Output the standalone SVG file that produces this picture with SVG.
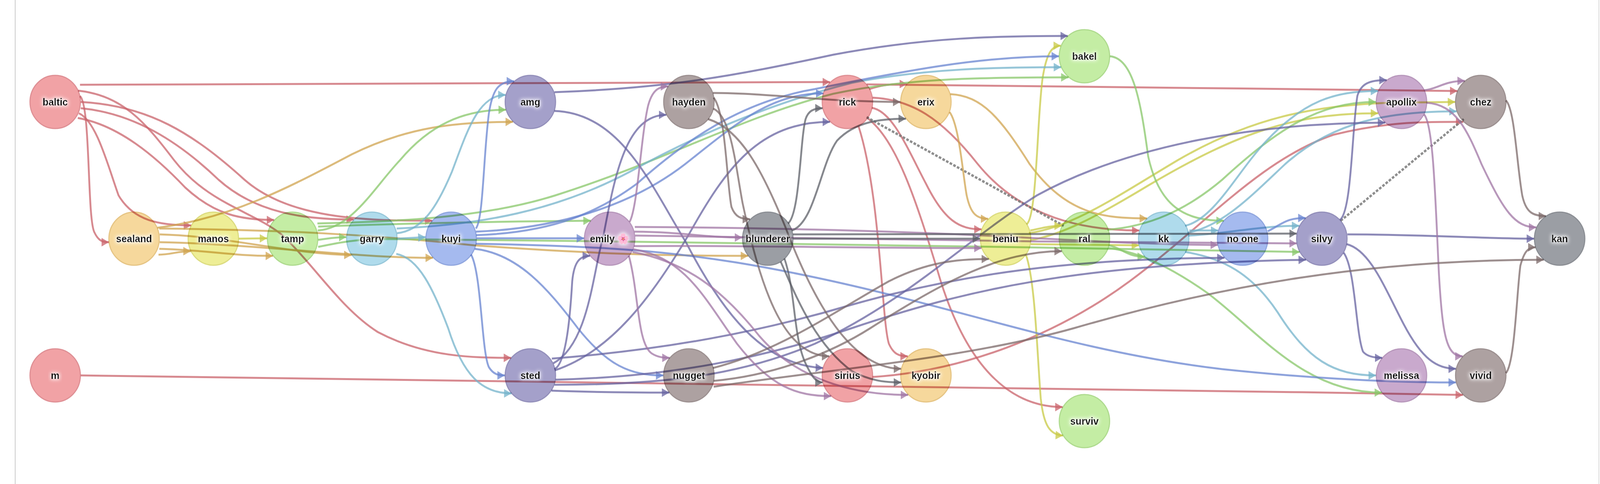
<svg xmlns="http://www.w3.org/2000/svg" width="4320" height="1239" viewBox="0 0 4320 1239">
<style>
.e{fill:none;stroke-width:5;stroke-opacity:.75}
.red{stroke:#c9636b;marker-end:url(#a-red)}
.org{stroke:#d0a450;marker-end:url(#a-org)}
.yel{stroke:#c8c945;marker-end:url(#a-yel)}
.grn{stroke:#88c769;marker-end:url(#a-grn)}
.lbl{stroke:#74b3cb;marker-end:url(#a-lbl)}
.blu{stroke:#6884d0;marker-end:url(#a-blu)}
.sla{stroke:#6763a0;marker-end:url(#a-sla)}
.pnk{stroke:#a076a4;marker-end:url(#a-pnk)}
.brn{stroke:#7c6a6a;marker-end:url(#a-brn)}
.gry{stroke:#5e6068;marker-end:url(#a-gry)}
.dash{fill:none;stroke:#7a7a7a;stroke-opacity:.85;stroke-width:6;stroke-dasharray:7 4}
.c{stroke-width:3;mix-blend-mode:multiply}
.n-red{fill:#f1a2a5;stroke:#df9095}
.n-org{fill:#f6d89c;stroke:#e6c585}
.n-yel{fill:#eeee96;stroke:#dcdc80}
.n-grn{fill:#c4eda4;stroke:#afdb8f}
.n-lbl{fill:#afdbec;stroke:#98c8da}
.n-blu{fill:#a5baef;stroke:#91a7df}
.n-sla{fill:#a4a0ca;stroke:#9490bb}
.n-pnk{fill:#c9a9cd;stroke:#b898bc}
.n-brn{fill:#ada1a1;stroke:#9d9191}
.n-gry{fill:#9b9ea4;stroke:#8c8f95}
.t{font-family:"Liberation Sans",Arial,"Noto Color Emoji",sans-serif;font-weight:bold;font-size:26px;text-anchor:middle;fill:#111;filter:url(#halo)}
</style>
<defs>
<filter id="halo" x="-30%" y="-60%" width="160%" height="220%">
<feMorphology in="SourceAlpha" operator="dilate" radius="2" result="d"/>
<feGaussianBlur in="d" stdDeviation="5" result="b"/>
<feFlood flood-color="#ffffff" flood-opacity="0.95"/>
<feComposite in2="b" operator="in" result="g"/>
<feMerge><feMergeNode in="g"/><feMergeNode in="SourceGraphic"/></feMerge>
</filter>
<marker id="a-red" viewBox="0 0 20 22" markerWidth="20" markerHeight="22" markerUnits="userSpaceOnUse" refX="20" refY="11" orient="auto"><path d="M0,0L20,11L0,22z" fill="#c9636b" fill-opacity=".75"/></marker>
<marker id="a-org" viewBox="0 0 20 22" markerWidth="20" markerHeight="22" markerUnits="userSpaceOnUse" refX="20" refY="11" orient="auto"><path d="M0,0L20,11L0,22z" fill="#d0a450" fill-opacity=".75"/></marker>
<marker id="a-yel" viewBox="0 0 20 22" markerWidth="20" markerHeight="22" markerUnits="userSpaceOnUse" refX="20" refY="11" orient="auto"><path d="M0,0L20,11L0,22z" fill="#c8c945" fill-opacity=".75"/></marker>
<marker id="a-grn" viewBox="0 0 20 22" markerWidth="20" markerHeight="22" markerUnits="userSpaceOnUse" refX="20" refY="11" orient="auto"><path d="M0,0L20,11L0,22z" fill="#88c769" fill-opacity=".75"/></marker>
<marker id="a-lbl" viewBox="0 0 20 22" markerWidth="20" markerHeight="22" markerUnits="userSpaceOnUse" refX="20" refY="11" orient="auto"><path d="M0,0L20,11L0,22z" fill="#74b3cb" fill-opacity=".75"/></marker>
<marker id="a-blu" viewBox="0 0 20 22" markerWidth="20" markerHeight="22" markerUnits="userSpaceOnUse" refX="20" refY="11" orient="auto"><path d="M0,0L20,11L0,22z" fill="#6884d0" fill-opacity=".75"/></marker>
<marker id="a-sla" viewBox="0 0 20 22" markerWidth="20" markerHeight="22" markerUnits="userSpaceOnUse" refX="20" refY="11" orient="auto"><path d="M0,0L20,11L0,22z" fill="#6763a0" fill-opacity=".75"/></marker>
<marker id="a-pnk" viewBox="0 0 20 22" markerWidth="20" markerHeight="22" markerUnits="userSpaceOnUse" refX="20" refY="11" orient="auto"><path d="M0,0L20,11L0,22z" fill="#a076a4" fill-opacity=".75"/></marker>
<marker id="a-brn" viewBox="0 0 20 22" markerWidth="20" markerHeight="22" markerUnits="userSpaceOnUse" refX="20" refY="11" orient="auto"><path d="M0,0L20,11L0,22z" fill="#7c6a6a" fill-opacity=".75"/></marker>
<marker id="a-gry" viewBox="0 0 20 22" markerWidth="20" markerHeight="22" markerUnits="userSpaceOnUse" refX="20" refY="11" orient="auto"><path d="M0,0L20,11L0,22z" fill="#5e6068" fill-opacity=".75"/></marker>
</defs>
<rect x="0" y="0" width="4320" height="1239" fill="#ffffff"/>
<g id="diagram" transform="scale(0.94815,1)">
<line x1="41" y1="0" x2="41" y2="1239" stroke="#c8c8c8" stroke-width="2"/>
<line x1="4317" y1="0" x2="4317" y2="1239" stroke="#d8d8d8" stroke-width="2"/>
<g id="connectors">
<path class="e red" d="M216,217 L2241,210"/>
<path class="e red" d="M216,246 C245,270 235,560 255,595 C265,615 275,620 294,620"/>
<path class="e red" d="M213,290 C260,310 290,420 320,500 C360,565 430,577 516,577"/>
<path class="e red" d="M210,302 C320,320 420,400 500,480 C580,550 650,563 740,563"/>
<path class="e red" d="M218,277 C360,290 480,360 590,460 C690,545 820,562 955,562"/>
<path class="e red" d="M218,261 C400,270 520,340 660,460 C780,560 980,565 1167,565"/>
<path class="e red" d="M211,232 C330,245 390,310 470,410 C560,520 680,540 760,600 C850,680 920,790 1020,850 C1150,915 1280,916 1380,916"/>
<path class="e red" d="M218,961 C1200,963 2600,990 3950,1011"/>
<path class="e red" d="M2347,228 C2380,218 2400,215 2449,215"/>
<path class="e red" d="M2340,216 C2900,220 3400,228 3935,233"/>
<path class="e red" d="M2356,250 C2460,255 2540,300 2640,420 C2760,560 2930,590 3076,590"/>
<path class="e red" d="M2354,276 C2410,285 2450,380 2500,470 C2550,565 2590,587 2650,587"/>
<path class="e red" d="M2342,302 C2420,360 2470,500 2540,720 C2610,930 2720,1042 2869,1042"/>
<path class="e red" d="M2318,323 C2378,500 2380,820 2400,880 C2412,905 2425,912 2451,912"/>
<path class="e red" d="M2356,965 C2600,950 2850,860 3050,720 C3250,580 3400,410 3600,345 C3750,310 3850,312 3951,312"/>
<path class="dash" d="M2340,300 L2872,578"/>
<path class="dash" d="M3620,565 L3952,305"/>
<path class="e org" d="M425,583 C620,560 780,480 950,395 C1100,325 1230,312 1385,312"/>
<path class="e org" d="M428,652 C460,652 480,643 515,643"/>
<path class="e org" d="M430,637 C560,640 620,655 737,655"/>
<path class="e org" d="M431,600 C620,605 780,650 949,653"/>
<path class="e org" d="M431,620 C700,625 950,660 1169,660"/>
<path class="e org" d="M430,585 C750,588 1000,600 1280,628 C1600,650 1800,655 2020,655"/>
<path class="e org" d="M2564,287 C2590,320 2600,450 2610,500 C2620,545 2635,560 2668,560"/>
<path class="e org" d="M2566,241 C2650,245 2700,300 2780,420 C2880,550 2980,559 3097,559"/>
<path class="e yel" d="M645,611 L721,610"/>
<path class="e yel" d="M2772,574 C2800,555 2800,300 2815,200 C2825,140 2838,117 2864,117"/>
<path class="e yel" d="M2770,652 C2795,720 2800,900 2810,1020 C2818,1090 2835,1113 2870,1115"/>
<path class="e yel" d="M2782,590 C2810,585 2830,578 2867,578"/>
<path class="e yel" d="M2783,625 C2900,627 3000,628 3075,628"/>
<path class="e yel" d="M2782,615 C2870,600 2960,555 3100,475 C3350,335 3500,290 3721,290"/>
<path class="e yel" d="M2778,597 C2900,580 3020,500 3180,410 C3380,300 3550,270 3750,263 L3929,261"/>
<path class="e grn" d="M859,614 C880,612 900,607 935,607"/>
<path class="e grn" d="M858,590 C950,585 1010,480 1080,410 C1160,320 1250,281 1366,281"/>
<path class="e grn" d="M857,572 C1050,568 1300,560 1500,500 C1800,410 2000,300 2250,240 C2450,200 2650,198 2885,198"/>
<path class="e grn" d="M859,580 C1000,575 1200,570 1400,567 L1595,565"/>
<path class="e grn" d="M859,632 C920,620 960,612 1050,612 C1600,616 2200,625 2700,632 C3100,640 3350,645 3509,645"/>
<path class="e grn" d="M2994,628 C3030,635 3040,657 3091,657"/>
<path class="e grn" d="M2993,635 C3080,645 3170,690 3260,750 C3400,850 3520,1005 3731,1005"/>
<path class="e grn" d="M2990,588 C3100,580 3200,540 3300,460 C3450,330 3560,261 3715,261"/>
<path class="e grn" d="M2997,144 C3060,150 3080,260 3100,400 C3130,530 3200,565 3304,565"/>
<path class="e lbl" d="M1073,611 L1149,607"/>
<path class="e lbl" d="M1072,597 C1140,590 1180,530 1220,440 C1260,340 1290,243 1365,243"/>
<path class="e lbl" d="M1070,650 C1130,660 1170,740 1210,840 C1250,960 1300,1007 1381,1007"/>
<path class="e lbl" d="M1071,585 C1300,575 1500,540 1700,440 C1900,335 2100,260 2300,212 C2500,175 2700,172 2865,172"/>
<path class="e lbl" d="M3211,590 L3289,590"/>
<path class="e lbl" d="M3208,603 C3300,600 3400,578 3508,578"/>
<path class="e lbl" d="M3200,578 C3280,560 3340,440 3420,360 C3520,260 3600,233 3721,233"/>
<path class="e lbl" d="M3206,596 C3300,580 3380,500 3470,420 C3600,310 3750,285 3933,285"/>
<path class="e lbl" d="M3200,645 C3300,660 3380,700 3450,800 C3530,920 3600,961 3715,961"/>
<path class="e blu" d="M1285,593 C1500,585 1700,530 1850,420 C1990,315 2080,239 2223,239"/>
<path class="e blu" d="M1286,602 C1500,595 1620,540 1720,470 C1850,360 2000,260 2200,228 C2450,180 2650,144 2859,144"/>
<path class="e blu" d="M1285,585 C1305,560 1305,400 1320,290 C1330,230 1345,208 1388,208"/>
<path class="e blu" d="M1287,610 L1577,610"/>
<path class="e blu" d="M1272,652 C1300,700 1300,900 1320,940 C1332,958 1345,961 1363,961"/>
<path class="e blu" d="M1282,637 C1400,650 1480,740 1560,840 C1640,935 1700,961 1791,961"/>
<path class="e blu" d="M1285,624 C1700,630 1900,650 2200,710 C2600,790 2900,900 3300,945 C3600,975 3800,979 3931,979"/>
<path class="e blu" d="M3423,592 C3460,575 3470,558 3525,558"/>
<path class="e sla" d="M1497,236 C1800,226 1980,195 2250,140 C2500,95 2700,92 2883,92"/>
<path class="e sla" d="M1497,284 C1680,290 1760,480 1852,620 C1950,800 2060,935 2222,942"/>
<path class="e sla" d="M1497,945 C1530,930 1540,800 1545,720 C1550,670 1565,655 1593,655"/>
<path class="e sla" d="M1494,930 C1590,880 1600,700 1630,600 C1660,450 1690,294 1799,294"/>
<path class="e sla" d="M1498,948 C1650,900 1760,760 1860,600 C1960,430 2050,312 2241,312"/>
<path class="e sla" d="M1489,1000 C1600,1004 1700,1005 1807,1005"/>
<path class="e sla" d="M1490,918 C1800,895 2050,850 2300,780 C2600,700 2900,662 3306,660"/>
<path class="e sla" d="M1500,972 C1800,965 2050,920 2300,840 C2600,745 2900,675 3526,665"/>
<path class="e sla" d="M1497,985 C1800,985 2000,960 2200,880 C2450,770 2600,620 2800,500 C3050,370 3400,314 3740,314"/>
<path class="e sla" d="M3638,600 C3850,600 4000,611 4142,611"/>
<path class="e sla" d="M3618,563 C3650,540 3650,330 3665,245 C3675,215 3695,205 3744,205"/>
<path class="e sla" d="M3628,647 C3660,690 3660,850 3680,900 C3690,912 3710,916 3732,916"/>
<path class="e sla" d="M3636,625 C3700,640 3740,740 3790,830 C3840,920 3880,944 3931,944"/>
<path class="e pnk" d="M1700,568 C1722,530 1730,350 1750,270 C1760,235 1775,221 1804,221"/>
<path class="e pnk" d="M1713,593 C1850,594 1900,608 2004,608"/>
<path class="e pnk" d="M1714,581 C2000,582 2400,590 2700,605 C3000,620 3150,627 3288,627"/>
<path class="e pnk" d="M1715,603 C2100,608 2500,615 2800,618 C3100,622 3350,623 3501,623"/>
<path class="e pnk" d="M1712,630 C2000,628 2300,635 2650,635"/>
<path class="e pnk" d="M1698,655 C1725,750 1720,880 1760,905 C1775,914 1790,916 1808,916"/>
<path class="e pnk" d="M1710,638 C1850,660 1900,760 1990,880 C2080,990 2150,1014 2244,1014"/>
<path class="e pnk" d="M1708,645 C1850,670 1950,740 2050,860 C2150,970 2300,1011 2452,1011"/>
<path class="e pnk" d="M3846,231 C3880,228 3900,207 3955,207"/>
<path class="e pnk" d="M3852,263 C3930,268 3960,330 4000,420 C4060,540 4090,582 4148,582"/>
<path class="e pnk" d="M3845,293 C3870,320 3875,500 3885,700 C3895,860 3905,912 3949,912"/>
<path class="e brn" d="M1925,238 C2050,238 2200,255 2300,258 C2360,260 2400,261 2431,261"/>
<path class="e brn" d="M1927,250 C1960,290 1962,470 1975,530 C1985,555 2000,561 2025,561"/>
<path class="e brn" d="M1926,278 C1975,300 1985,420 2005,520 C2050,720 2110,912 2239,912"/>
<path class="e brn" d="M1912,305 C2000,330 2060,440 2120,580 C2200,780 2300,944 2433,944"/>
<path class="e brn" d="M1925,942 C2100,900 2250,800 2400,720 C2500,672 2580,663 2670,663"/>
<path class="e brn" d="M1927,975 C2100,960 2250,900 2350,840 C2550,720 2700,643 2867,643"/>
<path class="e brn" d="M1927,990 C2200,950 2600,920 2900,840 C3300,730 3700,665 4168,665"/>
<path class="e brn" d="M4066,257 C4090,280 4095,420 4110,500 C4120,545 4140,553 4174,553"/>
<path class="e brn" d="M4066,955 C4090,930 4095,750 4105,680 C4115,645 4125,633 4146,633"/>
<path class="e gry" d="M2128,572 C2160,545 2160,360 2175,305 C2182,285 2195,277 2221,277"/>
<path class="e gry" d="M2138,590 C2200,570 2215,420 2260,360 C2310,310 2380,304 2446,304"/>
<path class="e gry" d="M2142,611 L2646,611"/>
<path class="e gry" d="M2141,600 C2500,600 3000,598 3501,598"/>
<path class="e gry" d="M2118,662 C2150,750 2140,870 2180,940 C2195,968 2205,979 2221,979"/>
<path class="e gry" d="M2108,670 C2150,760 2200,880 2300,950 C2350,975 2390,979 2433,979"/>
</g>
<g id="node-baltic"><circle class="c n-red" cx="149" cy="261" r="68"/><text class="t" x="149" y="270">baltic</text></g>
<g id="node-m"><circle class="c n-red" cx="149" cy="961" r="68"/><text class="t" x="149" y="970">m</text></g>
<g id="node-sealand"><circle class="c n-org" cx="362" cy="611" r="68"/><text class="t" x="362" y="620">sealand</text></g>
<g id="node-manos"><circle class="c n-yel" cx="576" cy="611" r="68"/><text class="t" x="576" y="620">manos</text></g>
<g id="node-tamp"><circle class="c n-grn" cx="790" cy="611" r="68"/><text class="t" x="790" y="620">tamp</text></g>
<g id="node-garry"><circle class="c n-lbl" cx="1004" cy="611" r="68"/><text class="t" x="1004" y="620">garry</text></g>
<g id="node-kuyi"><circle class="c n-blu" cx="1218" cy="611" r="68"/><text class="t" x="1218" y="620">kuyi</text></g>
<g id="node-amg"><circle class="c n-sla" cx="1432" cy="261" r="68"/><text class="t" x="1432" y="270">amg</text></g>
<g id="node-sted"><circle class="c n-sla" cx="1432" cy="961" r="68"/><text class="t" x="1432" y="970">sted</text></g>
<g id="node-emily"><circle class="c n-pnk" cx="1646" cy="611" r="68"/><text class="t" x="1646" y="620">emily 🌸</text></g>
<g id="node-hayden"><circle class="c n-brn" cx="1860" cy="261" r="68"/><text class="t" x="1860" y="270">hayden</text></g>
<g id="node-nugget"><circle class="c n-brn" cx="1860" cy="961" r="68"/><text class="t" x="1860" y="970">nugget</text></g>
<g id="node-blunderer"><circle class="c n-gry" cx="2073" cy="611" r="68"/><text class="t" x="2073" y="620">blunderer</text></g>
<g id="node-rick"><circle class="c n-red" cx="2288" cy="261" r="68"/><text class="t" x="2288" y="270">rick</text></g>
<g id="node-sirius"><circle class="c n-red" cx="2288" cy="961" r="68"/><text class="t" x="2288" y="970">sirius</text></g>
<g id="node-erix"><circle class="c n-org" cx="2500" cy="261" r="68"/><text class="t" x="2500" y="270">erix</text></g>
<g id="node-kyobir"><circle class="c n-org" cx="2500" cy="961" r="68"/><text class="t" x="2500" y="970">kyobir</text></g>
<g id="node-beniu"><circle class="c n-yel" cx="2715" cy="611" r="68"/><text class="t" x="2715" y="620">beniu</text></g>
<g id="node-bakel"><circle class="c n-grn" cx="2928" cy="144" r="68"/><text class="t" x="2928" y="153">bakel</text></g>
<g id="node-ral"><circle class="c n-grn" cx="2928" cy="611" r="68"/><text class="t" x="2928" y="620">ral</text></g>
<g id="node-surviv"><circle class="c n-grn" cx="2928" cy="1078" r="68"/><text class="t" x="2928" y="1087">surviv</text></g>
<g id="node-kk"><circle class="c n-lbl" cx="3142" cy="611" r="68"/><text class="t" x="3142" y="620">kk</text></g>
<g id="node-no-one"><circle class="c n-blu" cx="3355" cy="611" r="68"/><text class="t" x="3355" y="620">no one</text></g>
<g id="node-silvy"><circle class="c n-sla" cx="3569" cy="611" r="68"/><text class="t" x="3569" y="620">silvy</text></g>
<g id="node-apollix"><circle class="c n-pnk" cx="3784" cy="261" r="68"/><text class="t" x="3784" y="270">apollix</text></g>
<g id="node-melissa"><circle class="c n-pnk" cx="3784" cy="961" r="68"/><text class="t" x="3784" y="970">melissa</text></g>
<g id="node-chez"><circle class="c n-brn" cx="3998" cy="261" r="68"/><text class="t" x="3998" y="270">chez</text></g>
<g id="node-vivid"><circle class="c n-brn" cx="3998" cy="961" r="68"/><text class="t" x="3998" y="970">vivid</text></g>
<g id="node-kan"><circle class="c n-gry" cx="4211" cy="611" r="68"/><text class="t" x="4211" y="620">kan</text></g>
</g>
</svg>
